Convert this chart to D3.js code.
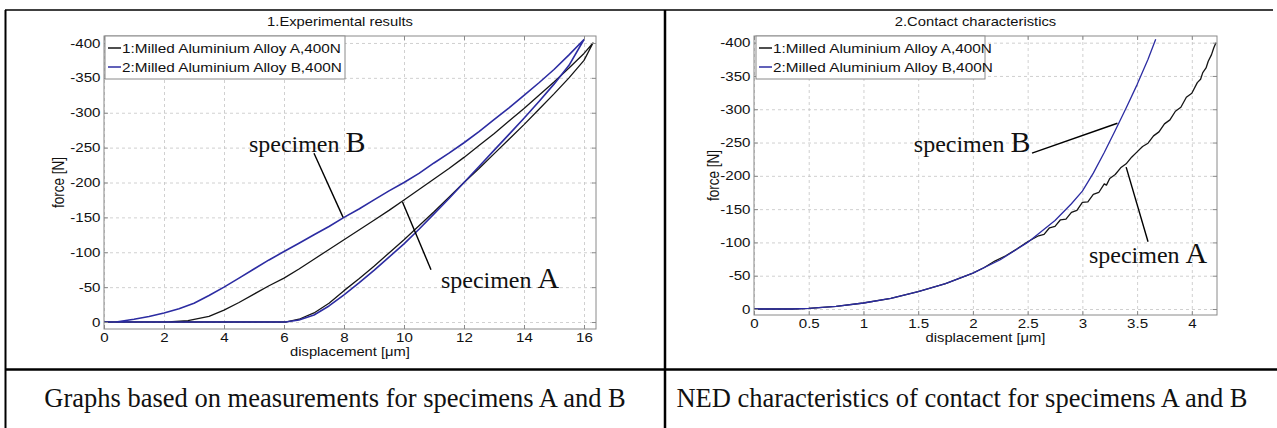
<!DOCTYPE html>
<html>
<head>
<meta charset="utf-8">
<script src="https://cdn.jsdelivr.net/npm/d3@7"></script>
<style>
  body { margin: 0; background: #fff; }
  svg { display: block; }
</style>
</head>
<body>
<div id="chart"></div>
<script>
// ---------- data ----------
const legendLabels = ["1:Milled Aluminium Alloy A,400N", "2:Milled Aluminium Alloy B,400N"];
const forceTicks = [-400, -350, -300, -250, -200, -150, -100, -50, 0];
const expTicks = [0, 2, 4, 6, 8, 10, 12, 14, 16];
const nedTicks = [0, 0.5, 1, 1.5, 2, 2.5, 3, 3.5, 4];
const captions = ["Graphs based on measurements for specimens A and B",
                  "NED characteristics of contact for specimens A and B"];

// 1. experimental results: loading then unloading (displacement um, force N)
const expA_x = [0, 2, 2.8, 3.5, 4, 4.5, 5, 5.5, 6, 6.5, 7, 7.5, 8, 8.5, 9, 9.5, 10, 10.5, 11, 11.5, 12, 12.5, 13, 13.5, 14, 14.5, 15, 15.5, 16, 16.3,
                16, 15.5, 15, 14.5, 14, 13.5, 13, 12.5, 12, 11.5, 11, 10.5, 10, 9.5, 9, 8.5, 8, 7.5, 7, 6.5, 6.05, 0];
const expA_f = [0, 0, -2, -8, -17, -28, -40, -52, -63, -76, -90, -104, -118, -132, -146, -160, -175, -190, -205, -220, -236, -253, -270, -288, -306, -325, -344, -364, -385, -400,
                -375, -350, -327, -305, -283, -262, -241, -220, -200, -179, -158, -138, -118, -99, -80, -62, -45, -27, -13, -4, 0, 0];
const expB_x = [0, 0.4, 1, 1.5, 2, 2.5, 3, 3.5, 4, 4.5, 5, 5.5, 6, 6.5, 7, 7.5, 8, 8.5, 9, 9.5, 10, 10.5, 11, 11.5, 12, 12.5, 13, 13.5, 14, 14.5, 15, 15.5, 16,
                15.5, 15, 14.5, 14, 13.5, 13, 12.5, 12, 11.5, 11, 10.5, 10, 9.5, 9, 8.5, 8, 7.5, 7, 6.5, 6.05, 0];
const expB_f = [0, 0, -4, -8, -13, -19, -27, -38, -50, -63, -76, -89, -101, -113, -125, -137, -150, -162, -175, -188, -200, -213, -228, -242, -257, -273, -290, -307, -325, -343, -362, -383, -405,
                -368, -341, -316, -292, -269, -246, -223, -200, -177, -155, -133, -112, -93, -74, -56, -39, -23, -10, -3, 0, 0];

// 2. contact characteristics
const nedA_x = [0, 0.35, 0.5, 0.75, 1, 1.25, 1.5, 1.75, 2, 2.1, 2.2, 2.3, 2.4, 2.5, 2.6, 2.65, 2.7, 2.75, 2.8, 2.85, 2.9, 2.95, 3, 3.05, 3.1, 3.15, 3.2, 3.22,
                3.25, 3.3, 3.35, 3.4, 3.45, 3.5, 3.55, 3.6, 3.65, 3.7, 3.75, 3.8, 3.85, 3.9, 3.95, 4, 4.05, 4.08, 4.1, 4.13, 4.15, 4.18, 4.2, 4.22];
const nedA_f = [0, 0, -1, -4, -9, -16, -26, -38, -54, -62, -72, -80, -90, -101, -110, -112, -122, -124, -134, -135, -145, -148, -160, -161, -172, -175, -188, -186,
                -196, -202, -212, -218, -228, -236, -244, -249, -260, -266, -278, -284, -297, -303, -318, -324, -340, -345, -355, -362, -372, -382, -392, -400];
const nedB_x = [0, 0.35, 0.5, 0.75, 1, 1.25, 1.5, 1.75, 2, 2.25, 2.5, 2.75, 2.9, 3, 3.1, 3.2, 3.3, 3.4, 3.5, 3.6, 3.67];
const nedB_f = [0, 0, -1, -4, -9, -16, -26, -38, -54, -74, -100, -133, -158, -177, -204, -235, -268, -302, -337, -375, -405];

// annotations: label anchor, pointer start, pointer end (data units)
const expNotes = [
  { text: "specimen ", letter: "B", at: [4.83, -244], from: [7.0, -242], to: [7.97, -150] },
  { text: "specimen ", letter: "A", at: [11.23, -49], from: [10.9, -75], to: [9.95, -172] }
];
const nedNotes = [
  { text: "specimen ", letter: "B", at: [1.46, -236], from: [2.54, -234], to: [3.32, -279] },
  { text: "specimen ", letter: "A", at: [3.06, -69], from: [3.60, -101], to: [3.40, -213] }
];

// ---------- layout ----------
const W = 1277, H = 428;
const SANS = "'Liberation Sans', Arial, sans-serif";
const SERIF = "'Liberation Serif', 'Times New Roman', serif";
const STRETCH = 1.18;   // the source figure is stretched horizontally
const BLACK = "#151515", BLUE = "#2c2ca2";

const svg = d3.select("#chart").append("svg")
    .attr("width", W)
    .attr("height", H);

// table borders
const border = svg.append("g").attr("stroke", "#000");
border.append("line").attr("x1", 5).attr("x2", 1273).attr("y1", 10).attr("y2", 10).attr("stroke-width", 1.5);
border.append("line").attr("x1", 5.5).attr("x2", 5.5).attr("y1", 10).attr("y2", H).attr("stroke-width", 2);
border.append("line").attr("x1", 665).attr("x2", 665).attr("y1", 10).attr("y2", H).attr("stroke-width", 2.5);
border.append("line").attr("x1", 5).attr("x2", W).attr("y1", 369.5).attr("y2", 369.5).attr("stroke-width", 2.5);

// captions
svg.selectAll("text.caption")
  .data(captions)
  .join("text")
    .attr("class", "caption")
    .attr("x", (d, i) => i === 0 ? 335 : 962)
    .attr("y", 407)
    .attr("text-anchor", "middle")
    .style("font-family", SERIF)
    .style("font-size", "26.5px")
    .attr("fill", "#111")
    .text(d => d);

const panels = [
  {
    title: "1.Experimental results",
    xDomain: [0, 16.4], yDomain: [10, -410], xTicks: expTicks,
    left: 104, right: 596, top: 36, bottom: 329,
    legendX: 105, legendW: 240, yLabelX: 64,
    series: [{ x: expA_x, f: expA_f, color: BLACK, width: 1.3 },
             { x: expB_x, f: expB_f, color: BLUE, width: 1.6 }],
    notes: expNotes
  },
  {
    title: "2.Contact characteristics",
    xDomain: [0, 4.23], yDomain: [9, -410], xTicks: nedTicks,
    left: 754, right: 1217, top: 36, bottom: 315,
    legendX: 756, legendW: 229, yLabelX: 719,
    series: [{ x: nedA_x, f: nedA_f, color: BLACK, width: 1.3 },
             { x: nedB_x, f: nedB_f, color: BLUE, width: 1.3 }],
    notes: nedNotes
  }
];

function gridStyle(g) {
  g.select(".domain").remove();
  g.selectAll("text").remove();
  g.selectAll("line")
    .attr("stroke", "#c4c4c4")
    .attr("stroke-width", 0.8)
    .attr("stroke-dasharray", "3,3");
}

function stretchText(sel, size) {
  sel.attr("fill", "#111")
    .style("font-family", SANS)
    .style("font-size", size + "px")
    .attr("transform", `scale(${STRETCH},1)`);
}

function drawPanel(p) {
  const x = d3.scaleLinear().domain(p.xDomain).range([p.left, p.right]);
  const y = d3.scaleLinear().domain(p.yDomain).range([p.bottom, p.top]);
  const w = p.right - p.left, h = p.bottom - p.top;
  const g = svg.append("g");

  // grid
  g.append("g")
    .attr("transform", `translate(0,${p.bottom})`)
    .call(d3.axisBottom(x).tickValues(p.xTicks).tickSize(-h).tickFormat(""))
    .call(gridStyle);
  g.append("g")
    .attr("transform", `translate(${p.left},0)`)
    .call(d3.axisLeft(y).tickValues(forceTicks).tickSize(-w).tickFormat(""))
    .call(gridStyle);

  // curves
  const line = d3.line().x(d => x(d[0])).y(d => y(d[1]));
  p.series.forEach(s => {
    g.append("path")
      .datum(d3.zip(s.x, s.f))
      .attr("d", line)
      .attr("fill", "none")
      .attr("stroke", s.color)
      .attr("stroke-width", s.width)
      .attr("stroke-linejoin", "round");
  });

  // box
  g.append("rect")
    .attr("x", p.left).attr("y", p.top)
    .attr("width", w).attr("height", h)
    .attr("fill", "none")
    .attr("stroke", "#8a8a8a");

  // axes with inward ticks
  const xa = g.append("g")
    .attr("transform", `translate(0,${p.bottom})`)
    .call(d3.axisBottom(x).tickValues(p.xTicks).tickSizeInner(-4).tickSizeOuter(0).tickPadding(4).tickFormat(d => String(d)));
  xa.select(".domain").remove();
  xa.selectAll("line").attr("stroke", "#8a8a8a");
  xa.selectAll("text").call(stretchText, 12.8);

  const ya = g.append("g")
    .attr("transform", `translate(${p.left},0)`)
    .call(d3.axisLeft(y).tickValues(forceTicks).tickSizeInner(-4).tickSizeOuter(0).tickPadding(3).tickFormat(d => String(d)));
  ya.select(".domain").remove();
  ya.selectAll("line").attr("stroke", "#8a8a8a");
  ya.selectAll("text").call(stretchText, 12.8);

  const xt = g.append("g")
    .attr("transform", `translate(0,${p.top})`)
    .call(d3.axisTop(x).tickValues(p.xTicks).tickSizeInner(-4).tickSizeOuter(0).tickFormat(""));
  xt.select(".domain").remove();
  xt.selectAll("line").attr("stroke", "#8a8a8a");
  const yr = g.append("g")
    .attr("transform", `translate(${p.right},0)`)
    .call(d3.axisRight(y).tickValues(forceTicks).tickSizeInner(-4).tickSizeOuter(0).tickFormat(""));
  yr.select(".domain").remove();
  yr.selectAll("line").attr("stroke", "#8a8a8a");

  // title and axis labels
  g.append("text")
    .attr("transform", `translate(${(p.left + p.right) / 2 - 10},26) scale(${STRETCH},1)`)
    .attr("text-anchor", "middle")
    .style("font-family", SANS).style("font-size", "12.5px").attr("fill", "#111")
    .text(p.title);
  g.append("text")
    .attr("transform", `translate(${(p.left + p.right) / 2},${p.bottom + 27}) scale(${STRETCH},1)`)
    .attr("text-anchor", "middle")
    .style("font-family", SANS).style("font-size", "12.5px").attr("fill", "#111")
    .text("displacement [\u03bcm]");
  g.append("text")
    .attr("transform", `translate(${p.yLabelX},${(p.top + p.bottom) / 2}) rotate(-90) scale(1,${STRETCH})`)
    .attr("text-anchor", "middle")
    .style("font-family", SANS).style("font-size", "13.5px").attr("fill", "#111")
    .text("force [N]");

  // legend
  const lg = g.append("g");
  lg.append("rect")
    .attr("x", p.legendX).attr("y", p.top)
    .attr("width", p.legendW).attr("height", 43)
    .attr("fill", "#fff")
    .attr("stroke", "#8a8a8a");
  legendLabels.forEach((lab, i) => {
    const yy = p.top + 12 + i * 19;
    lg.append("line")
      .attr("x1", p.legendX + 3).attr("x2", p.legendX + 16)
      .attr("y1", yy).attr("y2", yy)
      .attr("stroke", p.series[i].color).attr("stroke-width", 1.5);
    lg.append("text")
      .attr("transform", `translate(${p.legendX + 17},${yy + 4.5}) scale(${STRETCH},1)`)
      .style("font-family", SANS).style("font-size", "13px").attr("fill", "#111")
      .text(lab);
  });

  // specimen annotations
  p.notes.forEach(n => {
    g.append("line")
      .attr("x1", x(n.from[0])).attr("y1", y(n.from[1]))
      .attr("x2", x(n.to[0])).attr("y2", y(n.to[1]))
      .attr("stroke", "#000").attr("stroke-width", 1.4);
    const t = g.append("text")
      .attr("x", x(n.at[0])).attr("y", y(n.at[1]))
      .style("font-family", SERIF).style("font-size", "24px").attr("fill", "#111")
      .text(n.text);
    t.append("tspan").style("font-size", "30px").text(n.letter);
  });
}

panels.forEach(drawPanel);
</script>
</body>
</html>
